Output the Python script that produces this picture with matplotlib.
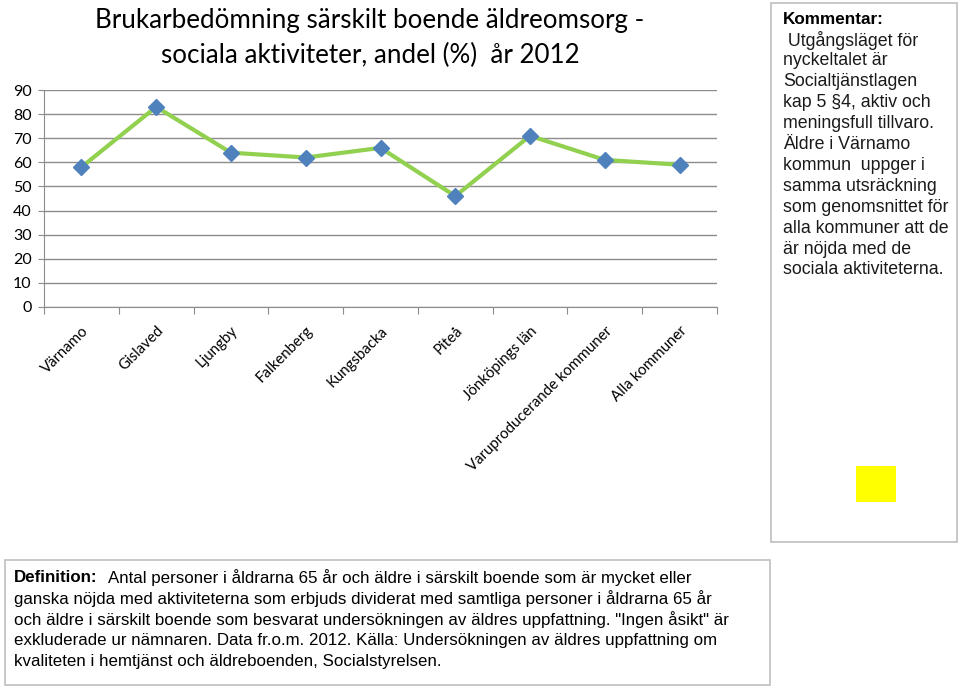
import matplotlib
matplotlib.use("Agg")
from matplotlib import pyplot as plt
from matplotlib.patches import Rectangle

# kategorier och värden (andel %)
kommuner = ["Värnamo", "Gislaved", "Ljungby", "Falkenberg", "Kungsbacka",
            "Piteå", "Jönköpings län", "Varuproducerande kommuner", "Alla kommuner"]
andel = [58, 83, 64, 62, 66, 46, 71, 61, 59]
yticks = [0, 10, 20, 30, 40, 50, 60, 70, 80, 90]

title = "Brukarbedömning särskilt boende äldreomsorg -\nsociala aktiviteter, andel (%)  år 2012"
kommentar = [" Utgångsläget för", "nyckeltalet är", "Socialtjänstlagen",
             "kap 5 §4, aktiv och", "meningsfull tillvaro.", "Äldre i Värnamo",
             "kommun  uppger i", "samma utsräckning", "som genomsnittet för",
             "alla kommuner att de", "är nöjda med de", "sociala aktiviteterna."]
definition = ["Antal personer i åldrarna 65 år och äldre i särskilt boende som är mycket eller",
              "ganska nöjda med aktiviteterna som erbjuds dividerat med samtliga personer i åldrarna 65 år",
              "och äldre i särskilt boende som besvarat undersökningen av äldres uppfattning. \"Ingen åsikt\" är",
              "exkluderade ur nämnaren. Data fr.o.m. 2012. Källa: Undersökningen av äldres uppfattning om",
              "kvaliteten i hemtjänst och äldreboenden, Socialstyrelsen."]

W, H = 959, 687
fig = plt.figure(figsize=(W / 100, H / 100), dpi=100)

def px(x, y):
    return x / W, 1 - y / H

# diagrammet
ax = fig.add_axes([44 / W, (H - 307) / H, (717 - 44) / W, (307 - 90) / H])
xs = [i + 0.5 for i in range(len(kommuner))]
ax.plot(xs, andel, color="#92D050", lw=3, marker="D", ms=8,
        mfc="#4F81BD", mec="#4F81BD", zorder=3)
ax.set_xlim(0, len(kommuner))
ax.set_ylim(0, 90)
ax.set_yticks(yticks)
ax.yaxis.grid(True, color="#8c8c8c", lw=1)
ax.set_axisbelow(True)
for s in ["top", "right"]:
    ax.spines[s].set_visible(False)
ax.spines["left"].set_color("#8c8c8c")
ax.spines["bottom"].set_color("#8c8c8c")
ax.set_xticks(range(len(kommuner) + 1))
ax.set_xticklabels([])
ax.set_xticks(xs, minor=True)
ax.set_xticklabels(kommuner, minor=True, rotation=45, ha="right", va="top",
                   rotation_mode="anchor", fontsize=10.8, family="Lato")
ax.tick_params(axis="x", which="minor", length=0, pad=12)
ax.tick_params(axis="x", which="major", length=5, color="#8c8c8c", direction="out")
ax.tick_params(axis="y", length=4, color="#8c8c8c", labelsize=11.5, pad=5)
for lab in ax.get_yticklabels():
    lab.set_family("Lato")

fig.text(*px(370, 38), title, ha="center", va="center", fontsize=18.7,
         family="Lato", linespacing=1.45)

# kommentarsruta
fig.add_artist(Rectangle(px(771, 542), (957 - 771) / W, (542 - 3) / H,
                         transform=fig.transFigure, fill=False, ec="#bfbfbf", lw=1.2))
fig.text(*px(783, 19), "Kommentar:", fontsize=12.3, weight="bold",
         family="Liberation Sans", va="center")
for i, rad in enumerate(kommentar):
    fig.text(*px(783, 40 + i * 20.9), rad, fontsize=12.8, family="Liberation Sans",
             va="center", color="#1a1a1a")
fig.add_artist(Rectangle(px(856, 502), 40 / W, 36 / H, transform=fig.transFigure,
                         fc="#FFFF00", ec="none"))

# definitionsruta
fig.add_artist(Rectangle(px(5, 685), (770 - 5) / W, (685 - 560) / H,
                         transform=fig.transFigure, fill=False, ec="#bfbfbf", lw=1.2))
fig.text(*px(14, 578), "Definition:", fontsize=12.2, weight="bold",
         family="Liberation Sans", va="center")
fig.text(*px(108, 578), definition[0], fontsize=12.2, family="Liberation Sans", va="center")
for i, rad in enumerate(definition[1:], start=1):
    fig.text(*px(14, 578 + i * 20.8), rad, fontsize=12.2, family="Liberation Sans", va="center")

fig.savefig("out.png", dpi=100)
